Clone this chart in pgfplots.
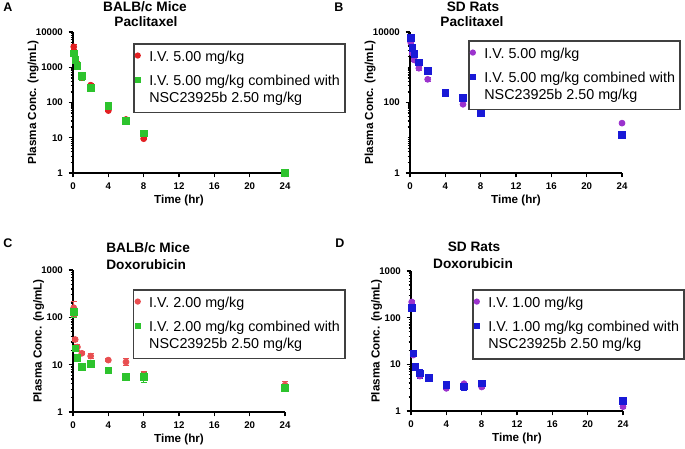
\documentclass[border=0pt]{standalone}
\usepackage{pgfplots}
\pgfplotsset{compat=1.18}
\usepackage{fontspec}
\setmainfont{Liberation Sans}
\definecolor{cred}{RGB}{226,32,34}
\definecolor{cred2}{RGB}{232,78,80}
\definecolor{cgreen}{RGB}{45,195,45}
\definecolor{cpurple}{RGB}{155,50,205}
\definecolor{cblue}{RGB}{25,25,215}
\pgfplotsset{
  lgone/.style={legend image code/.code={\draw[##1] plot coordinates {(0pt,1.4pt)};}},
  lgtwo/.style={legend image code/.code={\draw[##1] plot coordinates {(0pt,6.3pt)};}},
  myeb/.style={error bars/.cd, y dir=both, y explicit,
    error bar style={line width=0.6pt},
    error mark options={rotate=90, mark size=1.8pt, line width=0.6pt}},
  mycirc/.style={only marks, mark=*, mark size=1.8pt, color=#1, lgone},
  mysq/.style={only marks, mark=square*, mark size=2.0pt, color=#1, lgtwo},
  pkaxis/.style={
    scale only axis, width=127.2pt,
    xmin=0, xmax=24, ymin=1, clip=false,
    axis x line*=bottom, axis y line*=left,
    axis line style={-, line width=0.9pt, black},
    tick align=outside, major tick length=2.6pt, minor tick length=1.5pt,
    every tick/.style={black, line width=0.8pt},
    xtick={0,4,8,12,16,20,24}, xticklabels={0,4,8,12,16,20,24},
    tick label style={font=\fontsize{5.8}{7}\selectfont\bfseries},
    xlabel={Time (hr)}, ylabel={Plasma Conc. (ng/mL)},
    label style={font=\fontsize{7}{8}\selectfont\bfseries},
    xlabel shift=-4pt, ylabel shift=-8.5pt,
    legend cell align=left,
    legend style={draw=black!75, line width=0.9pt, anchor=north west,
      font=\fontsize{8.6}{10.2}\selectfont, cells={align=left},
      column sep=3.5pt, row sep=2.5pt, inner xsep=1pt, inner ysep=2.6pt},
    legend image post style={mark size=1.4pt},
  },
}
\begin{document}
\begin{tikzpicture}
\path[use as bounding box] (0,0) rectangle (411pt,-268.8pt);
% panel letters and titles
\node[anchor=base west, font=\fontsize{7.5}{8}\selectfont\bfseries, inner sep=0] at (3*0.6pt,-11.7*0.6pt) {A};
\node[anchor=base west, font=\fontsize{7.5}{8}\selectfont\bfseries, inner sep=0] at (334*0.6pt,-11.7*0.6pt) {B};
\node[anchor=base west, font=\fontsize{7.5}{8}\selectfont\bfseries, inner sep=0] at (3*0.6pt,-247*0.6pt) {C};
\node[anchor=base west, font=\fontsize{7.5}{8}\selectfont\bfseries, inner sep=0] at (335*0.6pt,-247*0.6pt) {D};
\node[anchor=base, font=\fontsize{8.2}{9}\selectfont\bfseries, inner sep=0] at (145*0.6pt,-11*0.6pt) {BALB/c Mice};
\node[anchor=base, font=\fontsize{8.2}{9}\selectfont\bfseries, inner sep=0] at (146*0.6pt,-26*0.6pt) {Paclitaxel};
\node[anchor=base, font=\fontsize{8.2}{9}\selectfont\bfseries, inner sep=0] at (473*0.6pt,-11.5*0.6pt) {SD Rats};
\node[anchor=base, font=\fontsize{8.2}{9}\selectfont\bfseries, inner sep=0] at (472*0.6pt,-26*0.6pt) {Paclitaxel};
\node[anchor=base west, font=\fontsize{8.2}{9}\selectfont\bfseries, inner sep=0] at (106*0.6pt,-252*0.6pt) {BALB/c Mice};
\node[anchor=base west, font=\fontsize{8.2}{9}\selectfont\bfseries, inner sep=0] at (106*0.6pt,-269*0.6pt) {Doxorubicin};
\node[anchor=base, font=\fontsize{8.2}{9}\selectfont\bfseries, inner sep=0] at (474*0.6pt,-251.5*0.6pt) {SD Rats};
\node[anchor=base, font=\fontsize{8.2}{9}\selectfont\bfseries, inner sep=0] at (473*0.6pt,-268*0.6pt) {Doxorubicin};

% ---------- A ----------
\begin{axis}[pkaxis, ymode=log, anchor=south west, at={(43.8pt,-103.8pt)}, height=84.6pt, ymax=10000,
  ytick={1,10,100,1000,10000}, yticklabels={1,10,100,1000,10000},
  minor ytick={2,3,4,5,6,7,8,9,20,30,40,50,60,70,80,90,200,300,400,500,600,700,800,900,2000,3000,4000,5000,6000,7000,8000,9000},
  legend style={at={(0.283,0.922)}}]
\addplot[mycirc=cred, myeb] coordinates {(0.083,3800)+-(0,700) (0.25,1950)+-(0,200) (0.5,1250)+-(0,100) (1,520)+-(0,60) (2,310)+-(0,30) (4,59)+-(0,4) (6,33)+-(0,3) (8,9.4)+-(0,0.6)};
\addlegendentry{I.V. 5.00 mg/kg}
\addplot[mysq=cgreen, myeb] coordinates {(0.083,2500)+-(0,400) (0.25,1600)+-(0,150) (0.5,1080)+-(0,100) (1,560)+-(0,150) (2,265)+-(0,40) (4,82)+-(0,6) (6,30)+-(0,3) (8,13.3)+-(0,1) (24,1.0)+-(0,0.05)};
\addlegendentry{I.V. 5.00 mg/kg combined with\\NSC23925b 2.50 mg/kg}
\end{axis}

% ---------- B ----------
\begin{axis}[pkaxis, ymode=log, anchor=south west, at={(246pt,-103.8pt)}, height=84.6pt, ymax=10000,
  ytick={1,100,10000}, yticklabels={1,100,10000},
  minor ytick={2,3,4,5,6,7,8,9,10,20,30,40,50,60,70,80,90,200,300,400,500,600,700,800,900,1000,2000,3000,4000,5000,6000,7000,8000,9000},
  legend style={at={(0.274,0.943)}}]
\addplot[mycirc=cpurple, myeb] coordinates {(0.083,5000)+-(0,300) (0.25,2500)+-(0,200) (0.5,1600)+-(0,120) (1,940)+-(0,110) (2,455)+-(0,70) (4,180)+-(0,10) (6,89)+-(0,6) (8,50)+-(0,3) (24,26)+-(0,1.5)};
\addlegendentry{I.V. 5.00 mg/kg}
\addplot[mysq=cblue, myeb] coordinates {(0.083,6900)+-(0,500) (0.25,3600)+-(0,250) (0.5,2380)+-(0,150) (1,1380)+-(0,100) (2,783)+-(0,50) (4,186)+-(0,12) (6,137)+-(0,8) (8,51)+-(0,3) (24,12)+-(0,0.8)};
\addlegendentry{I.V. 5.00 mg/kg combined with\\NSC23925b 2.50 mg/kg}
\end{axis}

% ---------- C ----------
\begin{axis}[pkaxis, ymode=log, anchor=south west, at={(43.8pt,-247.2pt)}, height=85.2pt, ymax=1000,
  ytick={1,10,100,1000}, yticklabels={1,10,100,1000},
  minor ytick={2,3,4,5,6,7,8,9,20,30,40,50,60,70,80,90,200,300,400,500,600,700,800,900},
  legend style={at={(0.283,0.866)}}]
\addplot[mycirc=cred2, myeb] coordinates {(0.083,160)+-(0,55) (0.25,34)+-(0,3) (0.5,23.6)+-(0,3.5) (1,17.4)+-(0,1.2) (2,15.2)+-(0,2) (4,12.5)+-(0,1) (6,11.4)+-(0,2) (8,6)+-(0,1.2) (24,3.7)+-(0,0.8)};
\addlegendentry{I.V. 2.00 mg/kg}
\addplot[mysq=cgreen, myeb] coordinates {(0.083,131)+-(0,30) (0.25,22)+-(0,3) (0.5,14)+-(0,2) (1,9)+-(0,0.8) (2,10.5)+-(0,0.8) (4,7.6)+-(0,1) (6,5.6)+-(0,1) (8,5.5)+-(0,1.2) (24,3.2)+-(0,0.4)};
\addlegendentry{I.V. 2.00 mg/kg combined with\\NSC23925b 2.50 mg/kg}
\end{axis}

% ---------- D ----------
\begin{axis}[pkaxis, ymode=log, anchor=south west, at={(246.6pt,-246.6pt)}, height=84pt, ymax=1000,
  ytick={1,10,100,1000}, yticklabels={1,10,100,1000},
  minor ytick={2,3,4,5,6,7,8,9,20,30,40,50,60,70,80,90,200,300,400,500,600,700,800,900},
  legend style={at={(0.288,0.871)}}]
\addplot[mycirc=cpurple, myeb] coordinates {(0.083,217)+-(0,15) (0.25,15.8)+-(0,1) (0.5,8.5)+-(0,0.6) (1,5.6)+-(0,0.5) (2,5.0)+-(0,0.4) (4,3.06)+-(0,0.2) (6,3.85)+-(0,0.3) (8,3.27)+-(0,0.2) (24,1.24)+-(0,0.08)};
\addlegendentry{I.V. 1.00 mg/kg}
\addplot[mysq=cblue, myeb] coordinates {(0.083,164)+-(0,20) (0.25,17.2)+-(0,2) (0.5,8.9)+-(0,0.6) (1,6.4)+-(0,1.5) (2,5.2)+-(0,0.8) (4,3.7)+-(0,0.4) (6,3.4)+-(0,0.6) (8,3.9)+-(0,0.3) (24,1.64)+-(0,0.1)};
\addlegendentry{I.V. 1.00 mg/kg combined with\\NSC23925b 2.50 mg/kg}
\end{axis}
\end{tikzpicture}
\end{document}
